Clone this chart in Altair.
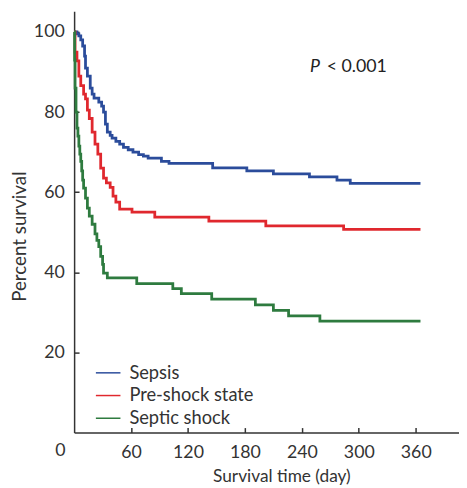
import altair as alt
import pandas as pd

groups = ["Sepsis", "Pre-shock state", "Septic shock"]
colors = ["#2b4c9b", "#e0282e", "#2e7b3f"]

sepsis_t = [0, 3, 5, 7, 9, 11, 12, 14, 17, 19, 21, 26, 29, 31, 33, 35, 38, 40, 44, 48, 52, 57, 62, 68, 73, 78, 92, 100, 146, 182, 210, 248, 277, 291, 365]
sepsis_s = [100, 99.5, 99, 98, 96.5, 94, 91, 89, 86, 84.5, 83.5, 82.5, 81.5, 80, 77, 75, 74.2, 73.5, 72.7, 72, 71.2, 70.6, 70, 69.4, 69, 68.5, 67.7, 67.2, 66.1, 65.3, 64.6, 63.8, 63.0, 62.2, 62.2]

preshock_t = [0, 1, 3, 5, 7, 10, 12, 14, 16, 19, 22, 25, 28, 31, 34, 38, 41, 44, 48, 61, 85, 142, 202, 284, 365]
preshock_s = [100, 95, 92.8, 89, 86.6, 84.5, 83.3, 80.5, 78.4, 75, 72, 69.5, 66, 63.5, 62.3, 61.2, 59, 57.5, 55.8, 55.0, 53.8, 52.8, 51.6, 50.7, 50.7]

shock_t = [0, 0.5, 1, 2, 3, 4, 5, 6, 7, 8, 9, 10, 12, 14, 16, 19, 22, 24, 26, 28, 30, 31, 35, 66, 104, 113, 145, 191, 210, 226, 259, 365]
shock_s = [100, 93, 86, 80, 76, 74, 71.5, 69.5, 67.7, 65.3, 63, 61, 58.5, 56, 54, 52, 49.6, 48, 46.4, 44, 42, 39.8, 38.6, 37.2, 35.9, 34.7, 33.3, 31.9, 30.5, 29.1, 27.8, 27.8]

x_ticks = [60, 120, 180, 240, 300, 360]
y_ticks = [20, 40, 60, 80, 100]

rows = []
for g, ts, ss in [(groups[0], sepsis_t, sepsis_s), (groups[1], preshock_t, preshock_s), (groups[2], shock_t, shock_s)]:
    for t, s in zip(ts, ss):
        rows.append({"group": g, "time": t, "survival": s})
df = pd.DataFrame(rows)

FONT = "Lato"
W, H = 390, 427
x_scale = alt.Scale(domain=[0, 405.6], nice=False, zero=False)
y_scale = alt.Scale(domain=[0, 105.2], nice=False, zero=False)

lines = alt.Chart(df).mark_line(interpolate="step-after", strokeWidth=2.8).encode(
    x=alt.X("time:Q", scale=x_scale,
            axis=alt.Axis(orient="bottom", values=x_ticks, ticks=False, labelPadding=11,
                          title="Survival time (day)", titleX=210, titleY=45,
                          titleFontSize=17.5,
                          titleBaseline="middle", titleAlign="center")),
    y=alt.Y("survival:Q", scale=y_scale,
            axis=alt.Axis(orient="left", values=y_ticks, ticks=False, labelPadding=10,
                          title="Percent survival", titleX=-55, titleY=228, titleFontSize=19,
                          titleBaseline="middle", titleAlign="center", titleAngle=-90)),
    color=alt.Color("group:N", scale=alt.Scale(domain=groups, range=colors),
                    legend=alt.Legend(title=None, orient="none", legendX=21, legendY=353,
                                      symbolType="stroke", symbolSize=620, symbolStrokeWidth=1.5,
                                      labelFont=FONT, labelFontSize=18.5, labelColor="#333",
                                      rowPadding=-10.5, labelOffset=8)),
)

tick_layer = alt.Chart(df).mark_line(opacity=0).encode(
    x=alt.X("time:Q", scale=x_scale,
            axis=alt.Axis(orient="bottom", offset=-5, domain=False, labels=False, ticks=True,
                          tickSize=5, values=x_ticks, title=None)),
    y=alt.Y("survival:Q", scale=y_scale,
            axis=alt.Axis(orient="left", offset=-5, domain=False, labels=False, ticks=True,
                          tickSize=5, values=y_ticks, title=None)),
    detail="group:N",
)

p_text = alt.Chart(pd.DataFrame({"a": [0]})).mark_text(
    text="P", font=FONT, fontSize=18, fontStyle="italic", align="left", baseline="middle", color="#222"
).encode(x=alt.X(datum=248.5, type="quantitative", scale=x_scale, axis=None),
         y=alt.Y(datum=91.2, type="quantitative", scale=y_scale, axis=None))

p_val = alt.Chart(pd.DataFrame({"a": [0]})).mark_text(
    text="< 0.001", font=FONT, fontSize=18, align="left", baseline="middle", color="#222", dx=17
).encode(x=alt.X(datum=248.5, type="quantitative", scale=x_scale, axis=None),
         y=alt.Y(datum=91.2, type="quantitative", scale=y_scale, axis=None))

zero_text = alt.Chart(pd.DataFrame({"a": [0]})).mark_text(
    text="0", font=FONT, fontSize=18, align="center", baseline="middle", color="#333", dx=-14, dy=19
).encode(x=alt.X(datum=0, type="quantitative", scale=x_scale, axis=None),
         y=alt.Y(datum=0, type="quantitative", scale=y_scale, axis=None))

chart = alt.layer(lines, tick_layer, p_text, p_val, zero_text).resolve_axis(
    x="independent", y="independent"
).properties(
    width=W, height=H,
    autosize=alt.AutoSizeParams(type="none"),
    padding={"left": 67, "top": 0, "right": 0, "bottom": 53},
).configure_view(stroke=None).configure_axis(
    grid=False, domainColor="#333", domainWidth=1.5, tickColor="#333", tickWidth=1.5,
    labelFont=FONT, labelFontSize=18, labelColor="#333",
    titleFont=FONT, titleFontSize=18, titleFontWeight="normal", titleColor="#333",
)

chart.save("out.html", embed_options={"renderer": "svg", "actions": False})
